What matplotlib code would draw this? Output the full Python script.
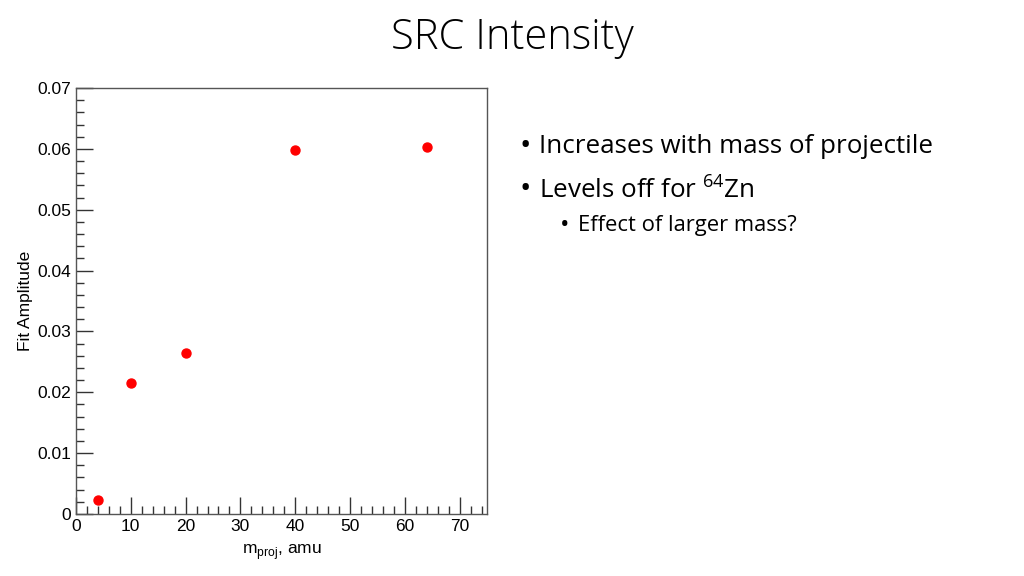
import numpy as np
import matplotlib.pyplot as plt
from matplotlib.ticker import MultipleLocator

# projectile mass (amu) and fit amplitude
mass = [4, 10, 20, 40, 64]
amp = [0.0023, 0.0216, 0.0265, 0.0598, 0.0603]

fig = plt.figure(figsize=(10.24, 5.76), dpi=100)
ax = fig.add_axes([76/1024, 1-514/576, 411/1024, 426/576])

ax.scatter(mass, amp, color='red', s=42, zorder=3)
ax.set_xlim(0, 75)
ax.set_ylim(0, 0.07)

ax.xaxis.set_major_locator(MultipleLocator(10))
ax.xaxis.set_minor_locator(MultipleLocator(2))
ax.yaxis.set_major_locator(MultipleLocator(0.01))
ax.yaxis.set_minor_locator(MultipleLocator(0.002))
ax.tick_params(which='both', direction='in', top=False, right=False,
               colors='#333333', labelcolor='black', labelsize=12.5)
ax.tick_params(which='major', length=12, width=1)
ax.tick_params(which='minor', length=6, width=1)
ax.yaxis.set_major_formatter(plt.FuncFormatter(lambda v, p: '0' if v == 0 else '%.2f' % v))
for lab in ax.get_xticklabels() + ax.get_yticklabels():
    lab.set_family('Liberation Sans')
for s in ax.spines.values():
    s.set_color('#555555')
    s.set_linewidth(1)

ax.set_xlabel(r'm$_{\mathregular{proj}}$, amu', family='Liberation Sans', fontsize=12.5, labelpad=6)
ax.set_ylabel('Fit Amplitude', family='Liberation Sans', fontsize=12.5, labelpad=3)

fig.text(0.5, 1-38/576, 'SRC Intensity', ha='center', va='center',
         family='Open Sans', fontweight='light', fontsize=30)

fig.text(519/1024, 1-147/576, '•', ha='left', va='center', family='Open Sans', fontsize=22)
fig.text(539/1024, 1-147/576, 'Increases with mass of projectile', ha='left', va='center',
         family='Open Sans', fontsize=18.7)
fig.text(519/1024, 1-190/576, '•', ha='left', va='center', family='Open Sans', fontsize=22)
fig.text(539/1024, 1-190/576, r'Levels off for $^{\mathregular{64}}$Zn', ha='left', va='center',
         family='Open Sans', fontsize=18.7)
fig.text(560/1024, 1-225/576, '•', ha='left', va='center', family='Open Sans', fontsize=18)
fig.text(578/1024, 1-225/576, 'Effect of larger mass?', ha='left', va='center',
         family='Open Sans', fontsize=15.8)

plt.savefig('out.png', dpi=100)
